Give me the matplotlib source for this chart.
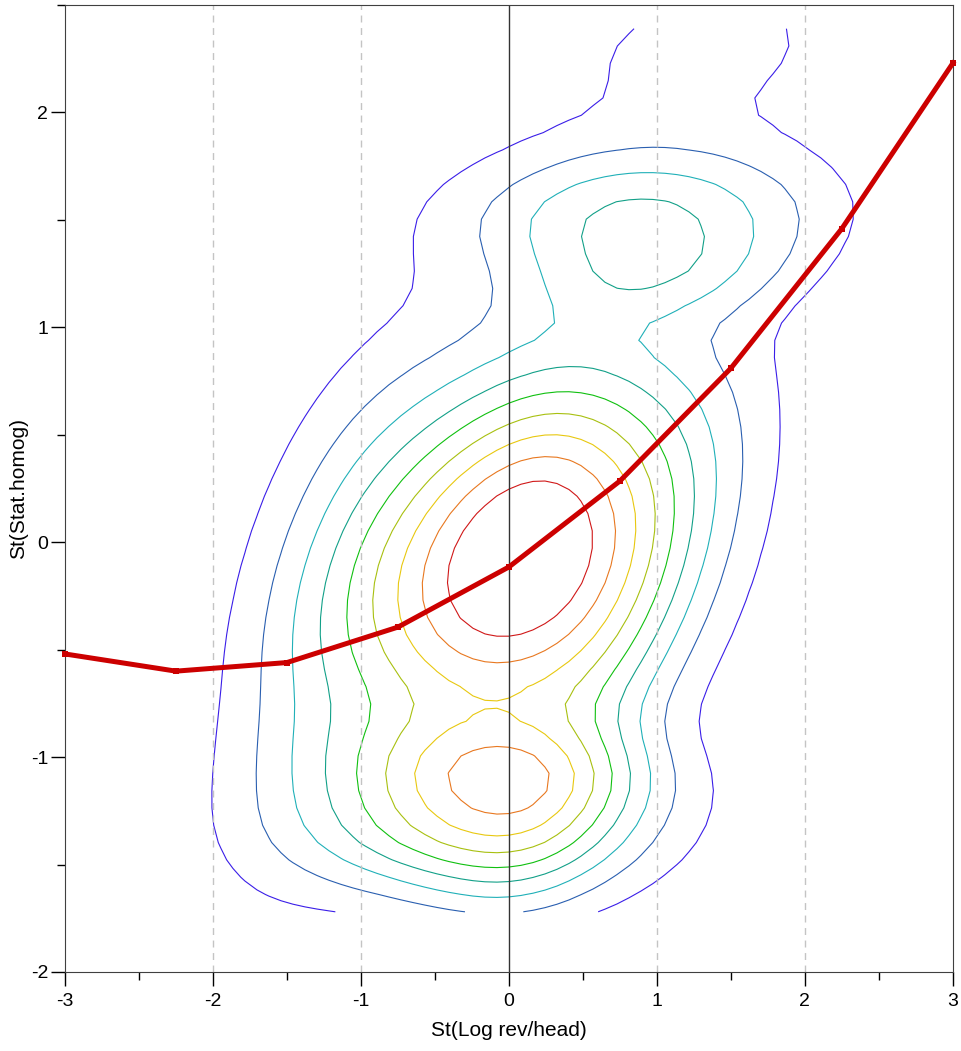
import numpy as np
import matplotlib
matplotlib.use("Agg")
import matplotlib.pyplot as plt

# density surface: gaussian bumps
comp_cx = [0.072, -0.191, 0.999, 0.620, 0.886, -0.034, 1.300, -1.188]
comp_cy = [-0.066, -1.326, 1.216, -0.654, 1.526, -1.038, 2.298, -0.288]
comp_sx = [0.756, 0.789, 0.575, 0.737, 0.836, 0.697, 0.808, 0.537]
comp_sy = [0.628, 0.235, 0.152, 1.071, 0.229, 0.168, 0.302, 0.813]
comp_rho = [0.329, 0.022, 0.222, 0.835, 0.081, -0.126, 0.223, 0.485]
comp_h = [10.402, 4.838, 1.527, 1.376, 3.744, 2.711, 1.282, 1.907]
floor_y = -1.774
floor_w = 0.019

# contour levels and colours (blue -> red)
levels = [1, 2, 3, 4, 5, 6, 7, 8, 9]
colors = ['#3a1ee8', '#2a5fb0', '#20b0b8', '#12a088', '#10c010',
          '#a8c010', '#e8c810', '#e87820', '#d01818']

# red line
line_x = [-3, -2.25, -1.5, -0.75, 0, 0.75, 1.5, 2.25, 3]
line_y = [-0.52, -0.60, -0.56, -0.395, -0.115, 0.285, 0.81, 1.46, 2.23]

# grid where the density was evaluated
gx = np.linspace(-3, 3, 75)
gy = np.linspace(-1.72, 2.39, 52)
GX, GY = np.meshgrid(gx, gy)

Z = np.zeros_like(GX)
for cx, cy, sx, sy, rho, h in zip(comp_cx, comp_cy, comp_sx, comp_sy, comp_rho, comp_h):
    zx = (GX - cx) / sx
    zy = (GY - cy) / sy
    Z += h * np.exp(-0.5 * (zx * zx - 2 * rho * zx * zy + zy * zy) / (1 - rho * rho))
Z = Z / (1 + np.exp(-(GY - floor_y) / floor_w))

plt.rcParams['font.family'] = ['Liberation Sans', 'DejaVu Sans']
plt.rcParams['axes.unicode_minus'] = False

fig = plt.figure(figsize=(9.61, 10.51), dpi=100)
ax = fig.add_axes([0.0676, 0.0752, 0.924, 0.92])

ax.contour(GX, GY, Z, levels=levels, colors=colors, linewidths=0.8)

# lineas verticales
for xv in [-2, -1, 1, 2]:
    ax.axvline(xv, color='#c4c4c4', lw=1, ls=(0, (5, 4)))
ax.axvline(0, color='#333333', lw=1)

ax.plot(line_x, line_y, color='#cc0000', lw=3.6, marker='s', ms=4, mew=0,
        clip_on=False, zorder=5)

ax.set_xlim(-3, 3)
ax.set_ylim(-2, 2.5)
ax.set_xticks(range(-3, 4))
ax.set_xticks(np.arange(-2.5, 3, 1), minor=True)
ax.set_yticks(range(-2, 3))
ax.set_yticks(np.arange(-1.5, 2.6, 1), minor=True)
ax.tick_params(direction='out', length=10, width=1, labelsize=14)
ax.tick_params(axis='x', pad=5)
ax.tick_params(axis='y', pad=2)
ax.tick_params(which='minor', direction='out', length=6, width=1)
for s in ax.spines.values():
    s.set_color('#404040')

ax.set_xlabel('St(Log rev/head)', fontsize=15, labelpad=8)
ax.set_ylabel('St(Stat.homog)', fontsize=15, labelpad=2)

fig.savefig('out.png', dpi=100)
